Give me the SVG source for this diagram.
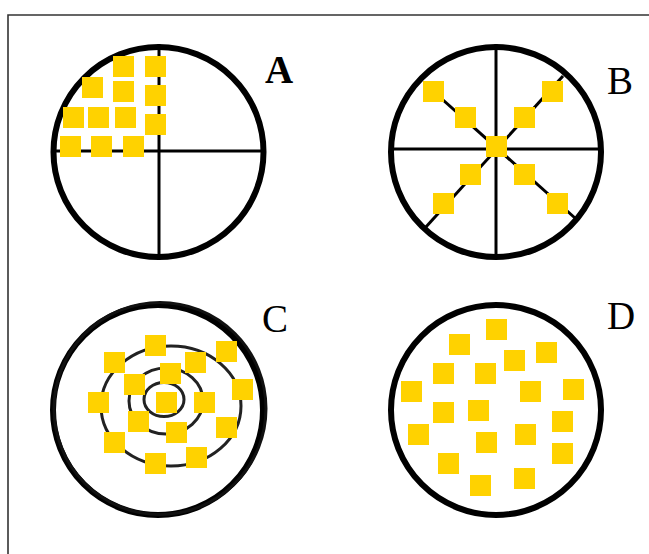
<svg xmlns="http://www.w3.org/2000/svg" width="649" height="554" viewBox="0 0 649 554">
<defs>
<style>
.ring{fill:none;stroke:#000;stroke-width:6}
.thin{fill:none;stroke:#000;stroke-width:3}
.inner{fill:none;stroke:#222;stroke-width:3}
.sq{fill:#FFD200}
.lbl{font-family:"Liberation Serif","DejaVu Serif",serif;font-size:39px;fill:#000}
</style>
</defs>
<rect width="649" height="554" fill="#fff"/>
<g id="frame">
<polyline points="8,554 8,15 649,15" fill="none" stroke="#333" stroke-width="1.6"/>
</g>
<g id="panelA">
<circle class="ring" cx="158.5" cy="152" r="105"/>
<line class="thin" x1="159" y1="44" x2="159" y2="260"/>
<line class="thin" x1="52" y1="151" x2="265" y2="151"/>
<rect class="sq" x="113" y="56" width="21" height="21"/>
<rect class="sq" x="145" y="56" width="21" height="21"/>
<rect class="sq" x="82" y="77" width="21" height="21"/>
<rect class="sq" x="113" y="81" width="21" height="21"/>
<rect class="sq" x="145" y="85" width="21" height="21"/>
<rect class="sq" x="63" y="107" width="21" height="21"/>
<rect class="sq" x="88" y="107" width="21" height="21"/>
<rect class="sq" x="115" y="107" width="21" height="21"/>
<rect class="sq" x="145" y="114" width="21" height="21"/>
<rect class="sq" x="60" y="136" width="21" height="21"/>
<rect class="sq" x="91" y="136" width="21" height="21"/>
<rect class="sq" x="123" y="136" width="21" height="21"/>
<text class="lbl" x="265" y="83" font-weight="bold">A</text>
</g>
<g id="panelB">
<circle class="ring" cx="496" cy="152" r="105"/>
<line class="thin" x1="496" y1="44" x2="496" y2="259"/>
<line class="thin" x1="390" y1="149" x2="602" y2="149"/>
<line class="thin" x1="425" y1="228" x2="563" y2="76"/>
<line class="thin" x1="433" y1="91" x2="575" y2="218"/>
<rect class="sq" x="423" y="81" width="21" height="21"/>
<rect class="sq" x="455" y="107" width="21" height="21"/>
<rect class="sq" x="542" y="81" width="21" height="21"/>
<rect class="sq" x="514" y="107" width="21" height="21"/>
<rect class="sq" x="486" y="136" width="21" height="21"/>
<rect class="sq" x="460" y="164" width="21" height="21"/>
<rect class="sq" x="433" y="193" width="21" height="21"/>
<rect class="sq" x="514" y="164" width="21" height="21"/>
<rect class="sq" x="547" y="193" width="21" height="21"/>
<text class="lbl" x="607" y="94">B</text>
</g>
<g id="panelC">
<circle class="ring" cx="158" cy="410" r="105"/>
<ellipse fill="none" stroke="#111" stroke-width="3" cx="160" cy="408.5" rx="106" ry="106"/>
<ellipse class="inner" cx="164" cy="399.5" rx="20" ry="17"/>
<ellipse class="inner" cx="166" cy="401" rx="37" ry="33"/>
<ellipse class="inner" cx="171" cy="406" rx="70" ry="60"/>
<rect class="sq" x="145" y="335" width="21" height="21"/>
<rect class="sq" x="104" y="352" width="21" height="21"/>
<rect class="sq" x="185" y="352" width="21" height="21"/>
<rect class="sq" x="216" y="341" width="21" height="21"/>
<rect class="sq" x="160" y="363" width="21" height="21"/>
<rect class="sq" x="124" y="374" width="21" height="21"/>
<rect class="sq" x="88" y="392" width="21" height="21"/>
<rect class="sq" x="156" y="392" width="21" height="21"/>
<rect class="sq" x="194" y="392" width="21" height="21"/>
<rect class="sq" x="232" y="379" width="21" height="21"/>
<rect class="sq" x="128" y="411" width="21" height="21"/>
<rect class="sq" x="166" y="422" width="21" height="21"/>
<rect class="sq" x="216" y="417" width="21" height="21"/>
<rect class="sq" x="104" y="432" width="21" height="21"/>
<rect class="sq" x="145" y="453" width="21" height="21"/>
<rect class="sq" x="186" y="447" width="21" height="21"/>
<text class="lbl" x="262" y="332">C</text>
</g>
<g id="panelD">
<circle class="ring" cx="496" cy="410" r="105"/>
<rect class="sq" x="486" y="319" width="21" height="21"/>
<rect class="sq" x="449" y="334" width="21" height="21"/>
<rect class="sq" x="504" y="350" width="21" height="21"/>
<rect class="sq" x="536" y="342" width="21" height="21"/>
<rect class="sq" x="433" y="363" width="21" height="21"/>
<rect class="sq" x="475" y="363" width="21" height="21"/>
<rect class="sq" x="401" y="381" width="21" height="21"/>
<rect class="sq" x="520" y="381" width="21" height="21"/>
<rect class="sq" x="563" y="379" width="21" height="21"/>
<rect class="sq" x="433" y="402" width="21" height="21"/>
<rect class="sq" x="468" y="400" width="21" height="21"/>
<rect class="sq" x="552" y="411" width="21" height="21"/>
<rect class="sq" x="408" y="424" width="21" height="21"/>
<rect class="sq" x="515" y="424" width="21" height="21"/>
<rect class="sq" x="476" y="432" width="21" height="21"/>
<rect class="sq" x="552" y="443" width="21" height="21"/>
<rect class="sq" x="438" y="453" width="21" height="21"/>
<rect class="sq" x="470" y="475" width="21" height="21"/>
<rect class="sq" x="514" y="468" width="21" height="21"/>
<text class="lbl" x="607" y="329">D</text>
</g>
</svg>
